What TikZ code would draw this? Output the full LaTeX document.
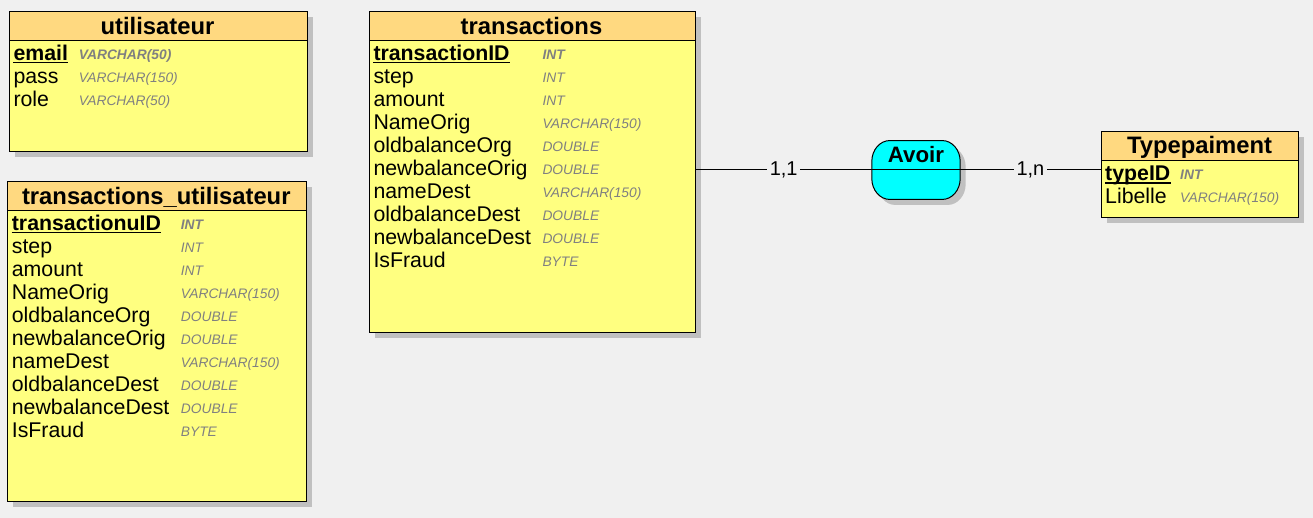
\documentclass[tikz,border=0pt]{standalone}
\usepackage{fontspec}
\setmainfont{Liberation Sans}
\usetikzlibrary{shadows}
\definecolor{bgc}{HTML}{F0F0F0}
\definecolor{hdrc}{HTML}{FFD980}
\definecolor{bodyc}{HTML}{FFFF80}
\definecolor{shdc}{HTML}{C0C0C0}
\definecolor{typc}{HTML}{808080}
\definecolor{assocc}{HTML}{00FFFF}
\tikzset{
 myshadow/.style={drop shadow={shadow xshift=5.5pt, shadow yshift=-5.5pt, fill=shdc, opacity=1}},
 bodybox/.style={draw=black, line width=1pt, fill=bodyc, anchor=north west, inner sep=0pt, myshadow},
 hdrbox/.style={draw=black, line width=1pt, fill=hdrc, anchor=north west, inner sep=0pt, minimum height=29.5pt},
 ttl/.style={anchor=base, inner sep=0pt, font=\fontsize{23.8}{28}\selectfont\bfseries},
 fld/.style={anchor=base west, inner sep=0pt, font=\fontsize{21.3}{25}\selectfont},
 keyfld/.style={anchor=base west, inner sep=0pt, font=\fontsize{21.3}{25}\selectfont\bfseries},
 typ/.style={anchor=base west, inner sep=0pt, text=typc, font=\fontsize{13.8}{16}\selectfont\itshape},
 keytyp/.style={anchor=base west, inner sep=0pt, text=typc, font=\fontsize{13.8}{16}\selectfont\itshape\bfseries},
 uline/.style={line width=1.8pt},
 assocbox/.style={draw=none, minimum width=88pt, minimum height=58.5pt, inner sep=0pt},
 assocfill/.style={draw=black, line width=1pt, fill=assocc},
 link/.style={draw=black, line width=1pt},
 card/.style={fill=bgc, inner sep=2.5pt, font=\fontsize{20}{24}\selectfont},
}
% #1 prefix, #2 x field, #3 x type, #4 first baseline, #5 list field/type
\newcommand\erRows[5]{%
  \foreach \f/\t [count=\i from 2] in {#5} {
    \node[fld] (#1f\i) at (#2, #4+23*\i-23) {\f};
    \node[typ] (#1t\i) at (#3, #4+23*\i-24.4) {\t};
  }%
}
\newcommand\avoirpath{([xshift=18pt]avoir.north west) -- ([xshift=-18pt]avoir.north east)
  arc[start angle=90, end angle=0, x radius=18pt, y radius=21pt]
  -- ([yshift=21pt]avoir.south east)
  arc[start angle=0, end angle=-90, x radius=18pt, y radius=21pt]
  -- ([xshift=18pt]avoir.south west)
  arc[start angle=270, end angle=180, x radius=18pt, y radius=21pt]
  -- ([yshift=-21pt]avoir.north west)
  arc[start angle=180, end angle=90, x radius=18pt, y radius=21pt] -- cycle}
\begin{document}
\begin{tikzpicture}[x=1pt, y=-1pt]
\fill[bgc] (0,0) rectangle (1313,518);
\useasboundingbox (0,0) rectangle (1313,518);

% ---------- utilisateur ----------
\node[bodybox, minimum width=298pt, minimum height=140pt] (u) at (8.5,11) {};
\node[hdrbox, minimum width=298pt] (u-h) at (8.5,11) {};
\node[ttl] (u-title) at (157.5,34.3) {utilisateur};
\node[keyfld] (uf1) at (13.3,60.7) {email};
\draw[uline] ([yshift=-1.8pt]uf1.base west) -- ([yshift=-1.8pt]uf1.base east);
\node[keytyp] (ut1) at (78.7,59.3) {VARCHAR(50)};
\erRows{u}{13.3}{78.7}{60.7}{pass/VARCHAR(150), role/VARCHAR(50)}

% ---------- transactions_utilisateur ----------
\node[bodybox, minimum width=298.5pt, minimum height=320.3pt] (tu) at (7,181) {};
\node[hdrbox, minimum width=298.5pt] (tu-h) at (7,181) {};
\node[ttl] (tu-title) at (156.3,204.3) {transactions\_utilisateur};
\node[keyfld] (tuf1) at (11.7,230.7) {transactionuID};
\draw[uline] ([yshift=-1.8pt]tuf1.base west) -- ([yshift=-1.8pt]tuf1.base east);
\node[keytyp] (tut1) at (180.7,229.3) {INT};
\erRows{tu}{11.7}{180.7}{230.7}{step/INT, amount/INT, NameOrig/VARCHAR(150), oldbalanceOrg/DOUBLE, newbalanceOrig/DOUBLE, nameDest/VARCHAR(150), oldbalanceDest/DOUBLE, newbalanceDest/DOUBLE, IsFraud/BYTE}

% ---------- transactions ----------
\node[bodybox, minimum width=326pt, minimum height=320.7pt] (tr) at (368.5,11) {};
\node[hdrbox, minimum width=326pt] (tr-h) at (368.5,11) {};
\node[ttl] (tr-title) at (531.5,34.3) {transactions};
\node[keyfld] (trf1) at (373.3,60.7) {transactionID};
\draw[uline] ([yshift=-1.8pt]trf1.base west) -- ([yshift=-1.8pt]trf1.base east);
\node[keytyp] (trt1) at (542.3,59.3) {INT};
\erRows{tr}{373.3}{542.3}{60.7}{step/INT, amount/INT, NameOrig/VARCHAR(150), oldbalanceOrg/DOUBLE, newbalanceOrig/DOUBLE, nameDest/VARCHAR(150), oldbalanceDest/DOUBLE, newbalanceDest/DOUBLE, IsFraud/BYTE}

% ---------- Typepaiment ----------
\node[bodybox, minimum width=197.6pt, minimum height=86.6pt] (tp) at (1100.7,130.7) {};
\node[hdrbox, minimum width=197.6pt] (tp-h) at (1100.7,130.7) {};
\node[ttl] (tp-title) at (1199.5,154) {Typepaiment};
\node[keyfld] (tpf1) at (1105,181) {typeID};
\draw[uline] ([yshift=-1.8pt]tpf1.base west) -- ([yshift=-1.8pt]tpf1.base east);
\node[keytyp] (tpt1) at (1180,179.6) {INT};
\erRows{tp}{1105}{1180}{181}{Libelle/VARCHAR(150)}

% ---------- Avoir association ----------
\node[assocbox] (avoir) at (916,170) {};
\begin{scope}[transform canvas={shift={(5.5pt,-5.5pt)}}]
  \fill[shdc] \avoirpath;
\end{scope}
\path[assocfill] \avoirpath;
\draw[link] (avoir.west) -- (avoir.east);
\node[anchor=base, inner sep=0pt, font=\fontsize{22.3}{26}\selectfont\bfseries] (avoir-lbl) at (916,162.7) {Avoir};

\draw[link] (tr.east |- avoir.west) -- node[card] (c11) {1,1} (avoir.west);
\draw[link] (avoir.east) -- node[card] (c1n) {1,n} (avoir.east -| tp.west);
\end{tikzpicture}
\end{document}
